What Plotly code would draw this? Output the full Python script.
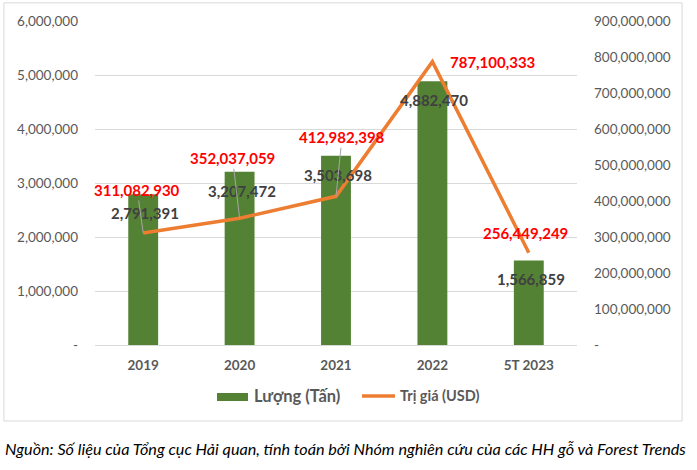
import plotly.graph_objects as go

categories = ["2019", "2020", "2021", "2022", "5T 2023"]
volume_tons = [2791391, 3207472, 3503698, 4882470, 1566859]
value_usd = [311082930, 352037059, 412982398, 787100333, 256449249]

left_ticks = [0, 1000000, 2000000, 3000000, 4000000, 5000000, 6000000]
left_ticktext = ["-", "1,000,000", "2,000,000", "3,000,000", "4,000,000", "5,000,000", "6,000,000"]
right_ticks = [0, 100000000, 200000000, 300000000, 400000000, 500000000,
               600000000, 700000000, 800000000, 900000000]
right_ticktext = ["-", "100,000,000", "200,000,000", "300,000,000", "400,000,000",
                  "500,000,000", "600,000,000", "700,000,000", "800,000,000", "900,000,000"]

series_names = ["Lượng (Tấn)", "Trị giá (USD)"]

# label offsets (pixels) for the value labels on the line
red_offsets = [(-6, -43, True), (-7, -60, True), (6, -59, True), (60, 0, False), (-3, -20, False)]

FONT = "Lato"
GRAY = "#595959"
GREEN = "#548235"
ORANGE = "#ED7D31"

xpos = list(range(len(categories)))

fig = go.Figure()
fig.add_trace(go.Bar(
    x=xpos, y=volume_tons, name=series_names[0],
    marker=dict(color=GREEN, line=dict(width=0)), width=0.31,
    yaxis="y", showlegend=False,
))
fig.add_trace(go.Scatter(
    x=xpos, y=value_usd, name=series_names[1], mode="lines",
    line=dict(color=ORANGE, width=3.5), yaxis="y2", showlegend=False,
))

annotations = []
for i, v in zip(xpos, volume_tons):
    annotations.append(dict(
        x=i, y=v, xref="x", yref="y", text=f"{v:,}", showarrow=False,
        xshift=2, yshift=-19,
        font=dict(family=FONT, size=15, color="#404040", weight="bold"),
    ))
for i, v, (ax, ay, arrow) in zip(xpos, value_usd, red_offsets):
    if arrow:
        annotations.append(dict(
            x=i, y=v, xref="x", yref="y2", text=f"{v:,}", showarrow=True,
            arrowhead=0, arrowwidth=1, arrowcolor="#a6a6a6", ax=ax, ay=ay,
            font=dict(family=FONT, size=15, color="#FF0000", weight="bold"),
        ))
    else:
        annotations.append(dict(
            x=i, y=v, xref="x", yref="y2", text=f"{v:,}", showarrow=False,
            xshift=ax, yshift=-ay,
            font=dict(family=FONT, size=15, color="#FF0000", weight="bold"),
        ))

# custom legend texts
annotations.append(dict(
    x=0.3257, y=-0.1574, xref="paper", yref="paper", xanchor="left", yanchor="middle",
    text=series_names[0], showarrow=False,
    font=dict(family=FONT, size=16.5, color=GRAY, weight="bold"),
))
annotations.append(dict(
    x=0.6286, y=-0.1574, xref="paper", yref="paper", xanchor="left", yanchor="middle",
    text=series_names[1], showarrow=False,
    font=dict(family=FONT, size=14.5, color=GRAY, weight="bold"),
))

annotations.append(dict(
    x=-0.191, y=-0.318, xref="paper", yref="paper", xanchor="left", yanchor="middle",
    text="<i>Nguồn: Số liệu của Tổng cục Hải quan, tính toán bởi Nhóm nghiên cứu của các HH gỗ và Forest Trends</i>",
    showarrow=False, font=dict(family=FONT, size=16.2, color="#000000"),
))

shapes = [
    dict(type="rect", xref="paper", yref="paper",
         x0=-0.189, x1=1.218, y0=-0.2346, y1=1.056,
         line=dict(color="#d9d9d9", width=1), fillcolor="rgba(0,0,0,0)", layer="below"),
    dict(type="rect", xref="paper", yref="paper",
         x0=0.2531, x1=0.3174, y0=-0.1728, y1=-0.1481,
         line=dict(width=0), fillcolor=GREEN),
    dict(type="line", xref="paper", yref="paper",
         x0=0.5539, x1=0.6224, y0=-0.1574, y1=-0.1574,
         line=dict(color=ORANGE, width=3.5)),
]

fig.update_layout(
    width=697, height=470,
    margin=dict(l=95, r=120, t=21, b=125, autoexpand=False),
    paper_bgcolor="white", plot_bgcolor="white",
    showlegend=False,
    xaxis=dict(range=[-0.5, len(categories) - 0.5], tickvals=xpos, ticktext=categories,
               showgrid=False, showline=True, linecolor="#d9d9d9", linewidth=1,
               zeroline=False,
               tickfont=dict(family=FONT, size=13.5, color=GRAY, weight="bold"),
               ticks="", ticklabelstandoff=8),
    yaxis=dict(range=[0, 6000000], tickvals=left_ticks, ticktext=left_ticktext,
               showgrid=True, gridcolor="#d9d9d9", gridwidth=1, zeroline=False,
               showline=False, ticks="", ticklabelstandoff=16,
               tickfont=dict(family=FONT, size=13.5, color=GRAY)),
    yaxis2=dict(range=[0, 900000000], tickvals=right_ticks, ticktext=right_ticktext,
                overlaying="y", side="right", showgrid=False, zeroline=False,
                showline=False, ticks="", ticklabelstandoff=16,
                tickfont=dict(family=FONT, size=13.5, color=GRAY)),
    annotations=annotations,
    shapes=shapes,
)

fig.write_html("out.html", config={"displayModeBar": False},
               post_script="document.body.style.margin='0';document.body.style.overflow='hidden';")
